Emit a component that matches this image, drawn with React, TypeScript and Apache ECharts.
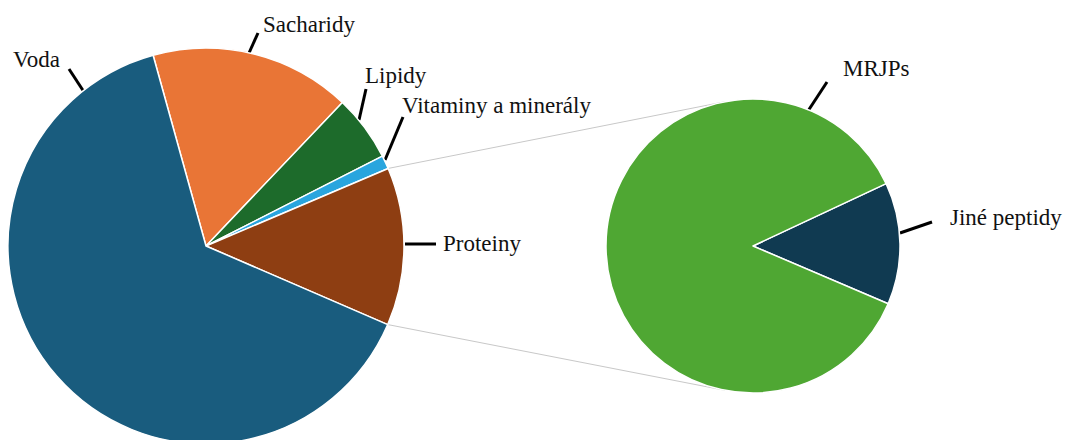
import React, { useEffect, useRef } from 'react';
import * as echarts from 'echarts';

// ---- data ----
const mainCategories = ['Sacharidy', 'Lipidy', 'Vitaminy a minerály', 'Proteiny', 'Voda'];
const mainValues = [16.4, 5.4, 1.1, 12.9, 64.2];
const proteinCategories = ['Jiné peptidy', 'MRJPs'];
const proteinValues = [13.4, 86.6];

// ---- styles / layout ----
const mainColors = ['#e97536', '#1d6b2b', '#29a5de', '#8e3e12', '#195c7e'];
const proteinColors = ['#103a51', '#4fa733'];
const MAIN_CENTER = [206, 246];
const MAIN_R = 198;
const MAIN_START = 105.5;
const SUB_CENTER = [753, 246];
const SUB_R = 147;
const SUB_START = 25.1;
const FONT = "'Liberation Serif', 'Times New Roman', 'DejaVu Serif', serif";

// label anchor (left x, middle y) and leader line (outer -> inner)
const mainLabelLayout = [
  { x: 263, y: 24, line: [[258, 33], [249, 53]] },
  { x: 365, y: 75, line: [[366, 89], [359, 120]] },
  { x: 402, y: 105, line: [[403, 117], [385, 160]] },
  { x: 443, y: 243, line: [[436, 244], [405, 244]] },
  { x: 13, y: 59, line: [[69, 69], [86, 95]] },
];
const subLabelLayout = [
  { x: 950, y: 217, line: [[932, 222], [900, 233]] },
  { x: 843, y: 68, line: [[827, 82], [808, 111]] },
];

function boundaryPoint(cumFraction: number) {
  const a = ((MAIN_START - 360 * cumFraction) * Math.PI) / 180;
  return [MAIN_CENTER[0] + MAIN_R * Math.cos(a), MAIN_CENTER[1] - MAIN_R * Math.sin(a)];
}

function tangentPoint(p: number[], upper: boolean) {
  const dx = SUB_CENTER[0] - p[0];
  const dy = SUB_CENTER[1] - p[1];
  const d = Math.sqrt(dx * dx + dy * dy);
  const phi = Math.atan2(dy, dx);
  const alpha = Math.asin(SUB_R / d);
  const L = Math.sqrt(d * d - SUB_R * SUB_R);
  const ang = upper ? phi - alpha : phi + alpha;
  return [p[0] + L * Math.cos(ang), p[1] + L * Math.sin(ang)];
}

export default function App() {
  const ref = useRef<HTMLDivElement>(null);
  useEffect(() => {
    if (!ref.current) return;
    const chart = echarts.init(ref.current, null, { renderer: 'svg' });

    const total = mainValues.reduce((s, v) => s + v, 0);
    const protIdx = mainCategories.indexOf('Proteiny');
    const before = mainValues.slice(0, protIdx).reduce((s, v) => s + v, 0);
    const pStart = boundaryPoint(before / total);
    const pEnd = boundaryPoint((before + mainValues[protIdx]) / total);
    const tTop = tangentPoint(pStart, true);
    const tBot = tangentPoint(pEnd, false);

    const labelCommon = {
      show: true,
      position: 'outside',
      formatter: '{b}',
      fontFamily: FONT,
      fontSize: 23,
      color: '#111',
    };
    const labelLineCommon = {
      show: true,
      length: 10,
      length2: 10,
      lineStyle: { color: '#000', width: 3 },
    };

    chart.setOption({
      animation: false,
      backgroundColor: '#ffffff',
      textStyle: { fontFamily: FONT },
      graphic: [
        {
          type: 'line',
          z: 0,
          silent: true,
          shape: { x1: pStart[0], y1: pStart[1], x2: tTop[0], y2: tTop[1] },
          style: { stroke: '#c8c8c8', lineWidth: 1 },
        },
        {
          type: 'line',
          z: 0,
          silent: true,
          shape: { x1: pEnd[0], y1: pEnd[1], x2: tBot[0], y2: tBot[1] },
          style: { stroke: '#c8c8c8', lineWidth: 1 },
        },
      ],
      series: [
        {
          type: 'pie',
          center: MAIN_CENTER,
          radius: MAIN_R,
          startAngle: MAIN_START,
          clockwise: true,
          avoidLabelOverlap: false,
          silent: true,
          itemStyle: { borderColor: '#ffffff', borderWidth: 1.5 },
          label: labelCommon,
          labelLine: labelLineCommon,
          labelLayout: (params: any) => {
            const l = mainLabelLayout[params.dataIndex];
            return {
              x: l.x,
              y: l.y,
              align: 'left',
              verticalAlign: 'middle',
              labelLinePoints: [l.line[0], l.line[1], l.line[1]],
            };
          },
          data: mainCategories.map((name, i) => ({
            name,
            value: mainValues[i],
            itemStyle: { color: mainColors[i] },
          })),
        },
        {
          type: 'pie',
          center: SUB_CENTER,
          radius: SUB_R,
          startAngle: SUB_START,
          clockwise: true,
          avoidLabelOverlap: false,
          silent: true,
          itemStyle: { borderColor: '#ffffff', borderWidth: 1.5 },
          label: labelCommon,
          labelLine: labelLineCommon,
          labelLayout: (params: any) => {
            const l = subLabelLayout[params.dataIndex];
            return {
              x: l.x,
              y: l.y,
              align: 'left',
              verticalAlign: 'middle',
              labelLinePoints: [l.line[0], l.line[1], l.line[1]],
            };
          },
          data: proteinCategories.map((name, i) => ({
            name,
            value: proteinValues[i],
            itemStyle: { color: proteinColors[i] },
          })),
        },
      ],
    });
    return () => chart.dispose();
  }, []);
  return (
    <div
      ref={ref}
      style={{ position: 'absolute', left: 0, top: 0, width: 1068, height: 440 }}
    />
  );
}
